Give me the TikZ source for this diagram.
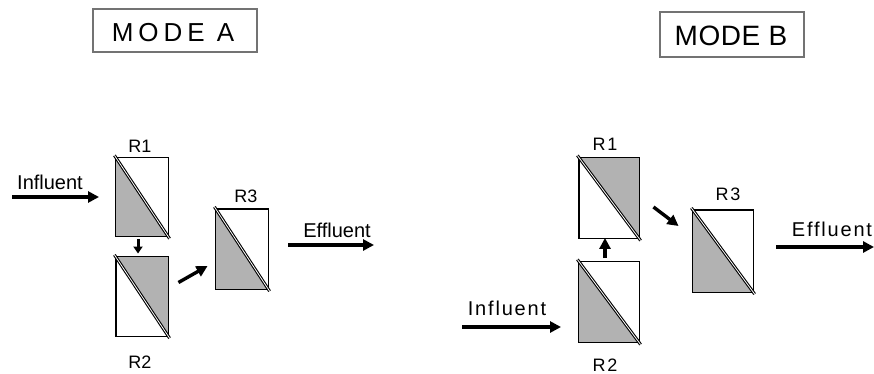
\documentclass[tikz,border=0pt]{standalone}
\usepackage{fontspec}
\setmainfont{Liberation Sans}
\newfontfamily\spacedfont[LetterSpace=9]{Liberation Sans}
\newfontfamily\modeAfont[LetterSpace=19]{Liberation Sans}
\newfontfamily\modeBfont[LetterSpace=2]{Liberation Sans}
\usetikzlibrary{arrows.meta,calc}
\tikzset{
  reactA/.style={minimum width=52pt,minimum height=79pt,inner sep=0pt,draw,line width=0.9pt},
  reactB/.style={minimum width=60pt,minimum height=81pt,inner sep=0pt,draw,line width=0.9pt},
  shade/.style={fill=black!30},
  border/.style={line width=1pt},
  diag/.style={draw=black,line width=1.1pt,double=white,double distance=0.8pt,shorten <=-2pt,shorten >=-2pt},
  flow/.style={line width=3.4pt,-{Triangle[length=11pt,width=11pt]}},
  sflow/.style={line width=3pt,-{Triangle[length=7pt,width=9pt]}},
  modebox/.style={draw=black!55,line width=2.6pt},
  lbl/.style={anchor=base,inner sep=0pt,font=\fontsize{20}{22}\selectfont},
  rlbl/.style={anchor=base,inner sep=0pt,font=\fontsize{18}{20}\selectfont},
}
\newcommand{\lowerleft}[1]{%
  \fill[shade] (#1.north west) -- (#1.south east) -- (#1.south west) -- cycle;
  \draw[border] (#1.north west) rectangle (#1.south east);
  \draw[diag] (#1.north west) -- (#1.south east);}
\newcommand{\upperright}[1]{%
  \fill[shade] (#1.north west) -- (#1.north east) -- (#1.south east) -- cycle;
  \draw[border] (#1.north west) rectangle (#1.south east);
  \draw[diag] (#1.north west) -- (#1.south east);}
\begin{document}
\begin{tikzpicture}[x=1pt,y=-1pt]
\useasboundingbox (0,0) rectangle (874,374);
% ---------- MODE A ----------
\node[modebox,minimum width=164pt,minimum height=43pt,inner sep=0pt] (modeAbox) at (175,30.5) {};
\node[anchor=base,inner sep=0pt,font=\fontsize{26}{28}\selectfont\modeAfont] (modeA) at (173,42) {MODE A};

\node[reactA] (R1a) at (142,197) {};
\node[reactA] (R2a) at (142,296.5) {};
\node[reactA,minimum height=80pt] (R3a) at (242,249) {};
\lowerleft{R1a}
\upperright{R2a}
\lowerleft{R3a}

\node[rlbl] (R1aL) at (140,153) {R1};
\node[rlbl] (R2aL) at (140,368) {R2};
\node[rlbl] (R3aL) at (246,202) {R3};

\node[lbl] (InA) at (50,189) {Influent};
\node[lbl] (EfA) at (337,237) {Effluent};

\coordinate (inAs) at (12,197);
\coordinate (inAe) at (99,197);
\coordinate (efAs) at (288,245);
\coordinate (efAe) at (374,245);
\draw[flow] (inAs) -- (inAe);
\draw[flow] (efAs) -- (efAe);
\draw[sflow,shorten <=2pt,shorten >=3pt] ([xshift=-4pt]R1a.south) -- ([xshift=-4pt]R2a.north);
\draw[flow] ($(R2a.east)+(10,-14)$) -- ($(R3a.west)+(-8,17)$);

% ---------- MODE B ----------
\node[modebox,minimum width=144pt,minimum height=45pt,inner sep=0pt] (modeBbox) at (732,34.5) {};
\node[anchor=base,inner sep=0pt,font=\fontsize{28}{30}\selectfont\modeBfont] (modeB) at (731,46) {MODE B};

\node[reactB] (R1b) at (609,198) {};
\node[reactB] (R2b) at (609,302) {};
\node[reactB,minimum height=82pt] (R3b) at (723,251) {};
\upperright{R1b}
\lowerleft{R2b}
\lowerleft{R3b}

\node[rlbl,font=\fontsize{18}{20}\selectfont\spacedfont] (R1bL) at (605,151) {R1};
\node[rlbl,font=\fontsize{18}{20}\selectfont\spacedfont] (R2bL) at (605,371) {R2};
\node[rlbl,font=\fontsize{18}{20}\selectfont\spacedfont] (R3bL) at (728,200) {R3};

\node[lbl,font=\fontsize{20}{22}\selectfont\spacedfont] (InB) at (507,315) {Influent};
\node[lbl,font=\fontsize{20}{22}\selectfont\spacedfont] (EfB) at (832,236) {Effluent};

\coordinate (inBs) at (462,327);
\coordinate (inBe) at (561,327);
\coordinate (efBs) at (776,247);
\coordinate (efBe) at (874,247);
\draw[flow] (inBs) -- (inBe);
\draw[flow] (efBs) -- (efBe);
\draw[flow,shorten <=3pt,shorten >=-1pt] ([xshift=-4pt]R2b.north) -- ([xshift=-4pt]R1b.south);
\draw[flow] ($(R1b.east)+(14,9)$) -- ($(R3b.west)+(-14,-25)$);
\end{tikzpicture}
\end{document}
